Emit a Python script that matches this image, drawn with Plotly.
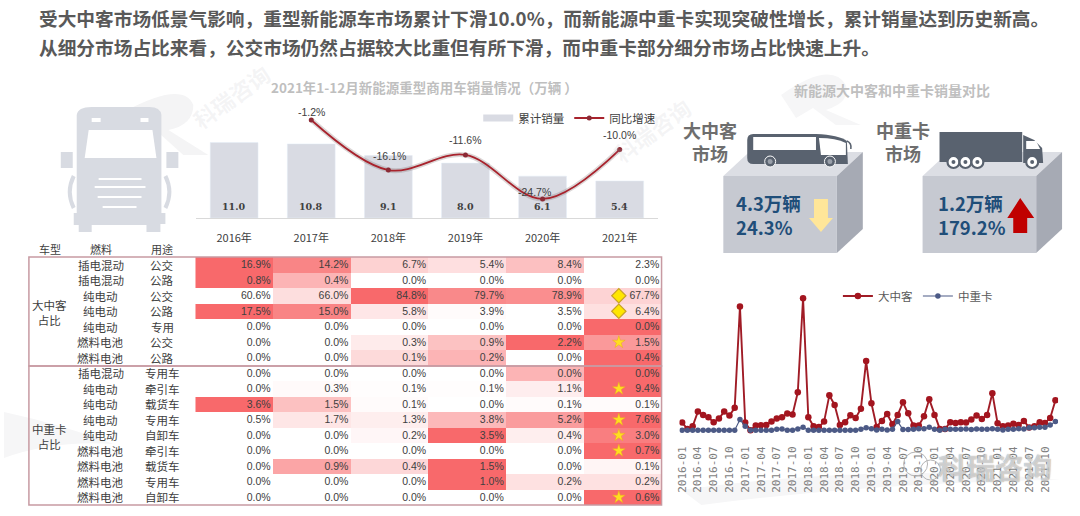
import numpy as np
import plotly.graph_objects as go

CJK = "Noto Sans CJK SC"
W, H = 1080, 516

# top combo chart
years = ["2016年", "2017年", "2018年", "2019年", "2020年", "2021年"]
total_sales = [11.0, 10.8, 9.1, 8.0, 6.1, 5.4]
yoy_growth = [None, -1.2, -16.1, -11.6, -24.7, -10.0]

# share table, one row per vehicle type (kept with hidden decimals, the cell colour depends on them)
row_fuel = ["插电混动", "插电混动", "纯电动", "纯电动", "纯电动", "燃料电池", "燃料电池",
            "插电混动", "纯电动", "纯电动", "纯电动", "纯电动", "燃料电池", "燃料电池", "燃料电池", "燃料电池"]
row_use = ["公交", "公路", "公交", "公路", "专用", "公交", "公路",
           "专用车", "牵引车", "载货车", "专用车", "自卸车", "牵引车", "载货车", "专用车", "自卸车"]
share = [
    [16.9, 14.2, 6.7, 5.4, 8.4, 2.3],
    [0.8, 0.4, 0.0, 0.0, 0.0, 0.0],
    [60.6, 66.0, 84.8, 79.7, 78.9, 67.7],
    [17.5, 15.0, 5.8, 3.9, 3.5, 6.4],
    [0.0, 0.0, 0.0, 0.0, 0.0, 0.04],
    [0.0, 0.0, 0.3, 0.9, 2.2, 1.5],
    [0.0, 0.0, 0.1, 0.2, 0.0, 0.4],
    [0.0, 0.0, 0.0, 0.0, 0.02, 0.04],
    [0.0, 0.3, 0.1, 0.1, 1.1, 9.4],
    [3.6, 1.5, 0.1, 0.0, 0.1, 0.1],
    [0.5, 1.7, 1.3, 3.8, 5.2, 7.6],
    [0.0, 0.0, 0.2, 3.5, 0.4, 3.0],
    [0.0, 0.0, 0.0, 0.0, 0.0, 0.7],
    [0.0, 0.9, 0.4, 1.5, 0.0, 0.1],
    [0.0, 0.0, 0.0, 1.0, 0.2, 0.2],
    [0.0, 0.0, 0.0, 0.0, 0.0, 0.6],
]
diamond_rows = [2, 3]
star_rows = [5, 8, 10, 11, 12, 15]

# monthly sales, no axis in the picture so the unit is relative
months = [f"{y}-{m:02d}" for y in range(2016, 2022) for m in range(1, 13)]
bus_sales = [5.8, 1, 3, 14, 11.5, 9.8, 6, 8.8, 14, 11, 16.8, 92.8,
             5.8, 0, 3.5, 3.8, 4, 6.5, 8.8, 9.8, 12.5, 11.8, 28.5, 99,
             9.8, 3, 2.5, 6.5, 26.2, 19, 4, 6, 11.2, 9.2, 16.2, 52,
             20.2, 2.5, 7, 12.2, 4.5, 11.5, 21, 12.8, 3.5, 3.5, 10.5, 23.2,
             11.5, 1, 1, 6, 5.5, 6, 5.8, 8, 11, 8.5, 11.5, 27.8,
             5.2, 3, 3.5, 4.8, 4, 7, 2, 3, 6, 5.5, 9.2, 22.5]
truck_sales = [0, 0, 0, 0, 0, 0, 0, 0, 0, 0, 0, 8,
               3, 0, 0, 0, 0, 0, 0.8, 1, 0, 0, 1, 2.2,
               0, 0, 0, 0, 0, 0, 0, 0, 0, 0, 0.8, 1.8,
               1.2, 0.2, 0.8, 0.2, 0.8, 6.5, 0.5, 0.5, 0.8, 1.2, 1.2, 2.2,
               0.8, 0, 0.8, 0.8, 0.8, 0.8, 1, 0.5, 1, 0.8, 0.8, 1.2,
               0.8, 0.2, 0.8, 0.8, 1.2, 1, 1.8, 1.8, 2.2, 2.2, 4, 6.5]


def px(x):
    return x / W


def py(y):
    return 1 - y / H


def path_px(cmd):
    # "M x y L x y ..." in screen pixels -> paper coordinates
    out, nums = [], []
    for tok in cmd.split():
        if tok.isalpha():
            out.append(tok)
        else:
            nums.append(float(tok))
            if len(nums) % 2:
                out.append(f"{px(nums[-1]):.5f}")
            else:
                out.append(f"{py(nums[-1]):.5f}")
    return " ".join(out)


shapes = []


def poly(cmd, fill="rgba(0,0,0,0)", line=None, lw=0, layer="below"):
    shapes.append(dict(type="path", xref="paper", yref="paper", path=path_px(cmd), fillcolor=fill,
                       line=dict(color=line or "rgba(0,0,0,0)", width=lw), layer=layer))


def blob(kind, x0, y0, x1, y1, fill="rgba(0,0,0,0)", line=None, lw=0, layer="below"):
    shapes.append(dict(type=kind, xref="paper", yref="paper", x0=px(x0), x1=px(x1), y0=py(y1), y1=py(y0),
                       fillcolor=fill, line=dict(color=line or "rgba(0,0,0,0)", width=lw), layer=layer))


fig = go.Figure()

# ---- combo chart
fig.add_trace(go.Bar(x=years, y=total_sales, marker_color="#d9dbe3", width=0.62, showlegend=False,
                     xaxis="x", yaxis="y", hoverinfo="skip"))
# empty trace, only gives the legend its wide grey swatch
fig.add_trace(go.Scatter(x=[None], y=[None], mode="lines", name="累计销量", xaxis="x", yaxis="y", legend="legend",
                         line=dict(color="#d9dbe3", width=7)))
fig.add_trace(go.Scatter(x=years, y=yoy_growth, mode="lines", xaxis="x", yaxis="y2", showlegend=False,
                         line=dict(color="rgba(130,110,110,0.28)", width=5, shape="spline"), hoverinfo="skip"))
fig.add_trace(go.Scatter(x=years, y=yoy_growth, mode="lines+markers", name="同比增速", xaxis="x", yaxis="y2",
                         legend="legend", line=dict(color="#a8232d", width=1.8, shape="spline"),
                         marker=dict(size=5, color="#8c2a35"), hoverinfo="skip"))

# ---- table
share_arr = np.array(share)
row_lo = share_arr.min(axis=1, keepdims=True)
row_hi = share_arr.max(axis=1, keepdims=True)
fig.add_trace(go.Heatmap(z=(share_arr - row_lo) / (row_hi - row_lo), x=list(range(6)), y=list(range(16)),
                         xaxis="x3", yaxis="y3", zmin=0, zmax=1, showscale=False, hoverinfo="skip",
                         colorscale=[[0, "#ffffff"], [1, "#f8696b"]]))
cols, rows = np.meshgrid(np.arange(6), np.arange(16))
fig.add_trace(go.Scatter(x=(cols + 0.47).ravel(), y=(rows + 0.06).ravel(), mode="text", xaxis="x3", yaxis="y3",
                         text=[f"{v:.1f}%" for v in share_arr.ravel()], textposition="middle left",
                         textfont=dict(family="Liberation Sans", size=10.5, color="#404040"),
                         showlegend=False, hoverinfo="skip"))
fig.add_trace(go.Scatter(x=[4.95] * len(diamond_rows), y=diamond_rows, mode="markers", xaxis="x3", yaxis="y3",
                         marker=dict(symbol="diamond", size=11, color="#ffe600", line=dict(color="#c9a227", width=1.2)),
                         showlegend=False, hoverinfo="skip"))
fig.add_trace(go.Scatter(x=[4.95] * len(star_rows), y=star_rows, mode="markers", xaxis="x3", yaxis="y3",
                         marker=dict(symbol="star", size=9.5, color="#ffdf20", line=dict(color="#e8a820", width=0.5)),
                         showlegend=False, hoverinfo="skip"))

# ---- monthly lines
fig.add_trace(go.Scatter(x=months, y=bus_sales, name="大中客", mode="lines+markers", xaxis="x4", yaxis="y4",
                         legend="legend2", line=dict(color="#a01c26", width=1.9),
                         marker=dict(size=6.5, color="#a3151f"), hoverinfo="skip"))
fig.add_trace(go.Scatter(x=months, y=truck_sales, name="中重卡", mode="lines+markers", xaxis="x4", yaxis="y4",
                         legend="legend2", line=dict(color="#4c5a86", width=1.2),
                         marker=dict(size=5.5, color="#4c5a86"), hoverinfo="skip"))

# ---- background swooshes and watermark R
poly("M 0 412 Q 60 425 110 444 Q 50 440 0 458 Z", fill="#f6f6f7")
poly("M 680 490 Q 880 462 1060 480 Q 880 482 700 505 Z", fill="#f6f6f7")
poly("M 120 112 Q 180 80 190 105 Q 190 125 165 130 L 205 155 L 180 155 L 150 128 L 130 140 Z", fill="#f4f4f5")
poly("M 780 95 Q 830 60 845 85 Q 850 102 825 110 L 860 125 L 835 125 L 812 108 L 795 118 Z", fill="#f6f6f7")

# ---- truck icon behind the table
TRUCK = "#d8dbe2"
poly("M 73 115 Q 74 107 88 107 L 146 107 Q 157 107 158 115 L 158 213 L 162 213 L 162 224 L 157 224 "
     "L 157 232 L 143 232 L 143 225 L 88 225 L 88 232 L 75 232 L 75 225 L 70 225 L 70 213 L 73 213 Z", fill=TRUCK)
poly("M 85 130 L 149 130 L 153 158 L 81 158 Z", fill="#ffffff")
blob("rect", 88, 118, 97, 122, fill="#ffffff")
blob("rect", 137, 118, 145, 122, fill="#ffffff")
blob("rect", 57, 152, 69, 168, fill=TRUCK)
blob("rect", 163, 152, 175, 168, fill=TRUCK)
poly("M 70 176 Q 62 192 70 208", line=TRUCK, lw=4)
poly("M 162 176 Q 170 192 162 208", line=TRUCK, lw=4)
for gy, ga, gb in [(179, 95, 138), (187, 91, 142), (197, 94, 138), (207, 99, 133)]:
    poly(f"M {ga} {gy} L {gb} {gy}", line="#ffffff", lw=2)

# ---- 3d boxes with vehicles
for dx in (0, 200):
    poly(f"M {722 + dx} 176 L {836 + dx} 176 L {862 + dx} 152 L {748 + dx} 152 Z", fill="#dcdee4")
    poly(f"M {836 + dx} 176 L {862 + dx} 152 L {862 + dx} 229 L {836 + dx} 253 Z", fill="#a6aab4")
    blob("rect", 722 + dx, 176, 836 + dx, 253, fill="#c6c9d1")

VEHICLE = "#59626f"
poly("M 752 134 L 815 134 Q 838 135 846 141 L 847 164 L 752 164 Q 746 164 746 158 L 746 140 Q 746 134 752 134 Z", fill=VEHICLE)
poly("M 846 141 Q 851 143 850 149", line=VEHICLE, lw=1.5)
blob("rect", 752, 137, 815, 150, fill="#ffffff")
poly("M 818 138 Q 835 138 845 143 L 845 155 L 820 155 Z", fill="#ffffff")
for wx in (769, 829):
    blob("circle", wx - 5.5, 156, wx + 5.5, 167, fill=VEHICLE, line="#ffffff", lw=1)
    blob("circle", wx - 2.5, 159, wx + 2.5, 164, fill="#9aa0aa")

blob("rect", 939, 132, 1022, 162, fill=VEHICLE)
poly("M 1023 135 L 1034 140 L 1042 148 L 1043 163 L 1023 163 Z", fill=VEHICLE)
poly("M 1026 141 L 1036 141 L 1040 149 L 1026 149 Z", fill="#ffffff")
for wx in (953, 965, 977, 1032):
    blob("circle", wx - 6, 156, wx + 6, 168, fill="#ffffff", line=VEHICLE, lw=2.2)
    blob("circle", wx - 2, 160, wx + 2, 164, fill=VEHICLE)

poly("M 813 199 L 827 199 L 827 218 L 832 218 L 820 232 L 808 218 L 813 218 Z", fill="#ffe699")
poly("M 1020 198 L 1034 218 L 1027 218 L 1027 233 L 1013 233 L 1013 218 L 1007 218 Z", fill="#c00000")

# ---- table frames
FRAME = "#c79aa2"
blob("rect", 25, 257, 660, 366, line=FRAME, lw=1.5, layer="above")
blob("rect", 25, 366, 660, 505, line=FRAME, lw=1.5, layer="above")

# wechat bubble over the corner
blob("circle", 903, 452, 927, 476, line="#b5b5b5", lw=1, layer="above")
blob("circle", 920, 460, 940, 480, line="#b5b5b5", lw=1, layer="above")

annotations = []


def note(text, x, y, size, color="#404040", bold=False, anchor="center", family=CJK, angle=0, shadow=None):
    font = dict(family=family, size=size, color=color, weight="bold" if bold else "normal")
    if shadow:
        font["shadow"] = shadow
    annotations.append(dict(text=text, x=px(x), y=py(y), xref="paper", yref="paper", showarrow=False,
                            xanchor=anchor, yanchor="middle", font=font, textangle=angle))


# watermarks first so the real text is painted on top of them
for wx, wy, wsize in [(228, 96, 22), (650, 130, 22)]:
    note("科瑞咨询", wx, wy, wsize, color="rgba(190,190,195,0.16)", bold=True, angle=-36)

note("受大中客市场低景气影响，重型新能源车市场累计下滑10.0%，而新能源中重卡实现突破性增长，累计销量达到历史新高。",
     33, 17, 18.7, color="#595959", bold=True, anchor="left")
note("从细分市场占比来看，公交市场仍然占据较大比重但有所下滑，而中重卡部分细分市场占比快速上升。",
     33, 47, 18.7, color="#595959", bold=True, anchor="left")
note("2021年1-12月新能源重型商用车销量情况（万辆 ）", 422, 87, 13.5, color="#bfbfbf", bold=True)
note("新能源大中客和中重卡销量对比", 891, 90, 14, color="#bfbfbf", bold=True)

note("大中客<br>市场", 709, 141, 18, color="#6e6e6e", bold=True)
note("中重卡<br>市场", 902, 141, 18, color="#6e6e6e", bold=True)
note("4.3万辆<br>24.3%", 733, 215, 18.5, color="#1f4e79", bold=True, anchor="left")
note("1.2万辆<br>179.2%", 935, 215, 18.5, color="#1f4e79", bold=True, anchor="left")
annotations[-1]["align"] = "left"
annotations[-2]["align"] = "left"

note("车型", 46, 249, 11)
note("燃料", 97, 249, 11)
note("用途", 159, 249, 11)
note("大中客<br>占比", 46, 312, 11.5)
note("中重卡<br>占比", 46, 436, 11.5)

note("科瑞咨询", 995, 466, 28.5, color="rgba(255,255,255,0.6)", bold=True, shadow="0px 0px 1px #333333")

# table row labels sit on the table's y axis
for i, (fuel, use) in enumerate(zip(row_fuel, row_use)):
    for label, lx in ((fuel, 97), (use, 159)):
        annotations.append(dict(text=label, x=px(lx), y=i, xref="paper", yref="y3", showarrow=False, xanchor="center",
                                font=dict(family=CJK, size=11.5, color="#404040")))

# totals at the foot of each bar
for year, val in zip(years, total_sales):
    annotations.append(dict(text=f"{val:.1f}", x=year, y=0, xref="x", yref="y", showarrow=False, yanchor="bottom", yshift=4,
                            font=dict(family="DejaVu Serif", size=9.5, color="#404040", weight="bold")))

# growth labels above their points
label_shift = {"2017年": (0, 8), "2018年": (1, 14), "2019年": (0, 15), "2020年": (-8, 7), "2021年": (0, 15)}
for year, val in zip(years, yoy_growth):
    if val is None:
        continue
    sx, sy = label_shift[year]
    annotations.append(dict(text=f"{val:.1f}%", x=year, y=val, xref="x", yref="y2", showarrow=False,
                            xshift=sx, yshift=sy, font=dict(family="Liberation Sans", size=10.5, color="#404040")))

AX_OFF = dict(visible=False, fixedrange=True)

fig.update_layout(
    width=W, height=H, margin=dict(l=0, r=0, t=0, b=0), paper_bgcolor="#ffffff", plot_bgcolor="rgba(0,0,0,0)",
    font=dict(family=CJK, color="#404040"), shapes=shapes, annotations=annotations, barmode="overlay",
    xaxis=dict(domain=[px(192.3), px(656.7)], range=[-0.5, 5.5], type="category", showline=True, linecolor="#d9d9d9",
               showgrid=False, ticks="outside", ticklen=10, tickcolor="rgba(0,0,0,0)", anchor="y",
               tickfont=dict(family=CJK, size=11, color="#404040")),
    yaxis=dict(domain=[py(218), py(100)], range=[0, 17.2], **AX_OFF),
    yaxis2=dict(domain=[py(218), py(100)], range=[-30.37, 4.75], overlaying="y", **AX_OFF),
    xaxis3=dict(domain=[px(192), px(660)], range=[-0.5, 5.5], anchor="y3", **AX_OFF),
    yaxis3=dict(domain=[py(505), py(257)], range=[15.5, -0.5], anchor="x3", **AX_OFF),
    xaxis4=dict(domain=[px(678), px(1058)], range=[-0.5, 71.5], type="category", anchor="y4", showgrid=False,
                showline=False, zeroline=False, tickmode="array", tickvals=months[::3], ticktext=months[::3],
                tickangle=-90, ticks="outside", ticklen=7, tickcolor="rgba(0,0,0,0)",
                tickfont=dict(family="DejaVu Sans Mono", size=11, color="#7f7f7f")),
    yaxis4=dict(domain=[py(434), py(290)], range=[-2.8, 105.2], anchor="x4", **AX_OFF),
    legend=dict(orientation="h", x=px(476), y=py(118), xanchor="left", yanchor="middle", bgcolor="rgba(0,0,0,0)",
                font=dict(family=CJK, size=11.5, color="#404040"), itemwidth=30),
    legend2=dict(orientation="h", x=px(837), y=py(296), xanchor="left", yanchor="middle", bgcolor="rgba(0,0,0,0)",
                 font=dict(family=CJK, size=11.5, color="#595959"), itemwidth=30),
)

fig.write_html("out.html", config={"displayModeBar": False},
               post_script="document.body.style.margin='0';document.body.style.overflow='hidden';")
